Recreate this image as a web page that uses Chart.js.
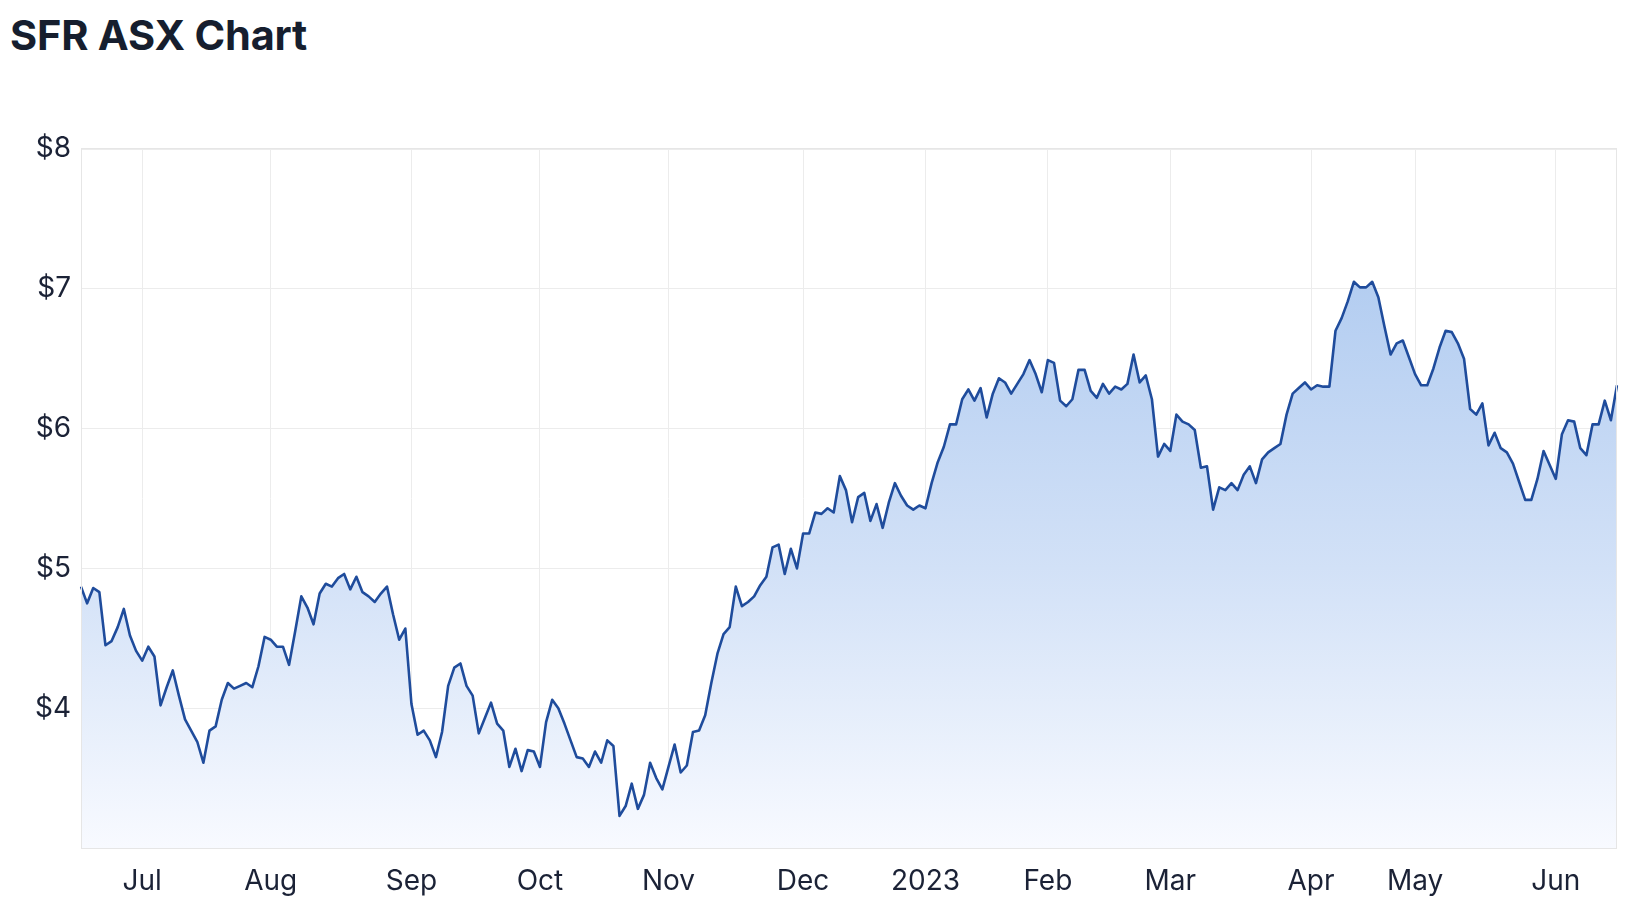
<!DOCTYPE html>
<html>
<head>
<meta charset="utf-8">
<script src="https://cdn.jsdelivr.net/npm/chart.js@4/dist/chart.umd.min.js"></script>
<style>
  body { margin: 0; background: #fff; width: 1632px; height: 922px; overflow: hidden; position: relative; }
  h1 { position: absolute; left: 10px; top: 15px; margin: 0; font: 700 41.5px/1 Inter, "Noto Sans", sans-serif; color: #161e2e; letter-spacing: -0.2px; }
  canvas { position: absolute; left: 0; top: 0; }
</style>
</head>
<body>
<h1>SFR ASX Chart</h1>
<canvas id="sfr" width="1632" height="922"></canvas>
<script>
// daily closes, one per ASX trading day, 17 Jun 2022 -> 16 Jun 2023
var prices = [
 4.87,4.75,4.86,4.83,4.45,4.48,4.58,4.71,4.52,4.41,
 4.34,4.44,4.37,4.02,4.15,4.27,4.09,3.92,3.84,3.76,
 3.61,3.84,3.87,4.06,4.18,4.14,4.16,4.18,4.15,4.30,
 4.51,4.49,4.44,4.44,4.31,4.55,4.80,4.72,4.60,4.82,
 4.89,4.87,4.93,4.96,4.85,4.94,4.83,4.80,4.76,4.82,
 4.87,4.67,4.49,4.57,4.03,3.81,3.84,3.77,3.65,3.83,
 4.16,4.29,4.32,4.16,4.09,3.82,3.93,4.04,3.89,3.84,
 3.58,3.71,3.55,3.70,3.69,3.58,3.90,4.06,4.00,3.89,
 3.77,3.65,3.64,3.58,3.69,3.61,3.77,3.73,3.23,3.30,
 3.46,3.28,3.38,3.61,3.50,3.42,3.58,3.74,3.54,3.59,
 3.83,3.84,3.95,4.18,4.39,4.53,4.58,4.87,4.73,4.76,
 4.80,4.88,4.94,5.15,5.17,4.96,5.14,5.00,5.25,5.25,
 5.40,5.39,5.43,5.40,5.66,5.56,5.33,5.51,5.54,5.34,
 5.46,5.29,5.47,5.61,5.52,5.45,5.42,5.45,5.43,5.61,
 5.76,5.87,6.03,6.03,6.21,6.28,6.20,6.29,6.08,6.25,
 6.36,6.33,6.25,6.32,6.39,6.49,6.39,6.26,6.49,6.47,
 6.20,6.16,6.21,6.42,6.42,6.27,6.22,6.32,6.25,6.30,
 6.28,6.32,6.53,6.33,6.38,6.21,5.80,5.89,5.84,6.10,
 6.05,6.03,5.99,5.72,5.73,5.42,5.58,5.56,5.61,5.56,
 5.67,5.73,5.61,5.78,5.83,5.86,5.89,6.10,6.25,6.29,
 6.33,6.28,6.31,6.30,6.30,6.70,6.79,6.91,7.05,7.01,
 7.01,7.05,6.94,6.73,6.53,6.61,6.63,6.51,6.39,6.31,
 6.31,6.43,6.58,6.70,6.69,6.61,6.50,6.14,6.10,6.18,
 5.88,5.97,5.86,5.83,5.75,5.62,5.49,5.49,5.64,5.84,
 5.74,5.64,5.96,6.06,6.05,5.86,5.81,6.03,6.03,6.20,
 6.06,6.31
];

var firstDay = '2022-06-17';
var lastDay = '2023-06-16';
var holidays = ['2022-09-22','2022-12-26','2022-12-27','2023-01-02','2023-01-26',
                '2023-04-07','2023-04-10','2023-04-25','2023-06-12'];
var monthLabels = ['2023','Feb','Mar','Apr','May','Jun','Jul','Aug','Sep','Oct','Nov','Dec'];
var yTicks = [4, 5, 6, 7, 8];

// trading days
var days = [];
var d = new Date(firstDay + 'T00:00:00Z');
var end = new Date(lastDay + 'T00:00:00Z');
while (d <= end) {
  var s = d.toISOString().slice(0, 10);
  var wd = d.getUTCDay();
  if (wd != 0 && wd != 6 && holidays.indexOf(s) < 0) days.push(s);
  d.setUTCDate(d.getUTCDate() + 1);
}

function tickFor(i) {
  if (i == 0) return null;
  if (days[i].slice(5, 7) == days[i - 1].slice(5, 7)) return null;
  return monthLabels[parseInt(days[i].slice(5, 7), 10) - 1];
}

var frame = {
  id: 'frame',
  afterDraw: function(chart) {
    var a = chart.chartArea, c = chart.ctx;
    c.save();
    c.strokeStyle = '#e6e6e6';
    c.lineWidth = 1;
    c.strokeRect(a.left + 0.5, a.top - 0.5, a.right - a.left - 1, a.bottom - a.top + 1);
    c.restore();
  }
};

var ctx = document.getElementById('sfr').getContext('2d');
var myChart = new Chart(ctx, {
  type: 'line',
  data: {
    labels: days,
    datasets: [{
      data: prices,
      borderColor: '#1f4c9c',
      borderWidth: 2.6,
      pointRadius: 0,
      tension: 0,
      borderJoinStyle: 'round',
      fill: 'start',
      backgroundColor: function(context) {
        var chart = context.chart;
        var a = chart.chartArea;
        if (!a) return 'rgba(0,0,0,0)';
        var g = chart.ctx.createLinearGradient(0, a.top, 0, a.bottom);
        g.addColorStop(0, 'rgb(165,196,238)');
        g.addColorStop(0.6, 'rgb(210,225,247)');
        g.addColorStop(1, 'rgb(248,250,255)');
        return g;
      }
    }]
  },
  options: {
    responsive: false,
    animation: false,
    layout: { padding: { top: 149, right: 15, bottom: 24, left: 0 } },
    plugins: { legend: { display: false }, tooltip: { enabled: false } },
    scales: {
      x: {
        grid: { color: '#ececec', drawTicks: false },
        border: { display: false },
        ticks: {
          autoSkip: false, maxRotation: 0, padding: 17,
          color: '#1b2236', font: { family: 'Inter', size: 28 },
          callback: function(v, i) { return tickFor(i); }
        },
        afterFit: function(s) { s.height = 50; }
      },
      y: {
        min: 3, max: 8,
        grid: { color: '#ececec', drawTicks: false },
        border: { display: false },
        ticks: {
          stepSize: 1, padding: 10,
          color: '#1b2236', font: { family: 'Inter', size: 28 },
          callback: function(v) { return yTicks.indexOf(v) >= 0 ? '$' + v : null; }
        },
        afterFit: function(s) { s.width = 81; }
      }
    }
  },
  plugins: [frame]
});
</script>
</body>
</html>
